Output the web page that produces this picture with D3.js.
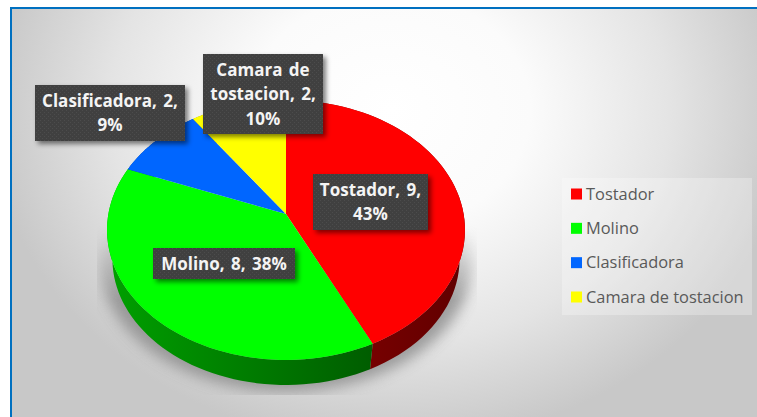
<!DOCTYPE html>
<html><head><meta charset="utf-8">
<script src="https://cdn.jsdelivr.net/npm/d3@7"></script>
<style>html,body{margin:0;padding:0;background:#fff}svg{display:block}</style>
</head><body><div id="c"></div>
<script>
const categories = ["Tostador","Molino","Clasificadora","Camara de tostacion"];
const values = [9,8,1.95,2.05];
const colors = ["#ff0000","#00ff00","#0066ff","#ffff00"];
const sideColors = [["#8a0000","#600000"],["#00a000","#005c00"],["#0040a0","#0040a0"],["#a0a000","#a0a000"]];
const labelLines = [["Tostador, 9,","43%"],["Molino, 8, 38%"],["Clasificadora, 2,","9%"],["Camara de","tostacion, 2,","10%"]];
const labelBoxes = [[313,174,115,56],[153,248,142,31],[35,85,150,56],[203,54,120,80]];

const W=757,H=417;
const svg=d3.select("#c").append("svg").attr("width",W).attr("height",H);
const defs=svg.append("defs");

const bg=defs.append("radialGradient").attr("id","bg").attr("gradientUnits","userSpaceOnUse")
  .attr("cx",0).attr("cy",0).attr("r",1)
  .attr("gradientTransform","translate(390 110) scale(400 335)");
[[0,"#ffffff"],[0.35,"#fbfbfb"],[0.7,"#e4e4e4"],[1,"#c8c8c8"]].forEach(s=>bg.append("stop").attr("offset",s[0]).attr("stop-color",s[1]));

const blur=(id,d)=>defs.append("filter").attr("id",id).attr("x","-20%").attr("y","-20%").attr("width","140%").attr("height","140%")
  .append("feGaussianBlur").attr("stdDeviation",d);
blur("sh",7); blur("bs",2.5);
defs.append("clipPath").attr("id","shClip").append("rect").attr("x",97).attr("y",225).attr("width",380).attr("height",170);
const fade=defs.append("linearGradient").attr("id","fade").attr("gradientUnits","userSpaceOnUse").attr("x1",0).attr("x2",0).attr("y1",225).attr("y2",300);
fade.append("stop").attr("offset",0).attr("stop-color","#000");
fade.append("stop").attr("offset",1).attr("stop-color","#fff");
defs.append("mask").attr("id","shMask").attr("maskUnits","userSpaceOnUse").attr("x",0).attr("y",0).attr("width",W).attr("height",H)
  .append("rect").attr("width",W).attr("height",H).attr("fill","url(#fade)");
const pat=defs.append("pattern").attr("id","dots").attr("width",4).attr("height",4).attr("patternUnits","userSpaceOnUse");
pat.append("rect").attr("width",4).attr("height",4).attr("fill","#404040");
pat.append("rect").attr("width",1).attr("height",1).attr("fill","#4c4c4c");
pat.append("rect").attr("x",2).attr("y",2).attr("width",1).attr("height",1).attr("fill","#4c4c4c");

// frame
svg.append("rect").attr("x",11).attr("y",8).attr("width",W-11).attr("height",H-8).attr("fill","url(#bg)");
svg.append("path").attr("d",`M11 ${H}V8H${W}`).attr("fill","none").attr("stroke","#0070c0").attr("stroke-width",2);

// perspective projection of the pie disc
const cx=286, apexY=214, k=0.123, a=177.6, b=128;
const proj=(t,s=1,ay=apexY)=>{const w=1+k*Math.cos(t);return [cx+s*a*Math.sin(t)/w, ay-s*b*Math.cos(t)/w];};
const bottom=t=>proj(t,0.97,243.4);
const arcs=d3.pie().sort(null).value(d=>d)(values);
const line=d3.line();
const samples=d=>d3.range(0,61).map(i=>d.startAngle+(d.endAngle-d.startAngle)*i/60);

// shadow
svg.append("g").attr("mask","url(#shMask)").append("g").attr("clip-path","url(#shClip)").append("ellipse")
  .attr("cx",cx).attr("cy",262).attr("rx",186).attr("ry",130).attr("fill","#8a8a8a").attr("opacity",.8).attr("filter","url(#sh)");

// side wall
arcs.forEach((d,i)=>{
  const g=defs.append("linearGradient").attr("id","side"+i).attr("gradientUnits","userSpaceOnUse")
    .attr("x1",107).attr("x2",465).attr("y1",0).attr("y2",0);
  const gs = i===0 ? [[0.5,sideColors[i][0]],[1,sideColors[i][1]]] : [[0,sideColors[i][0]],[0.75,sideColors[i][1]]];
  gs.forEach(s=>g.append("stop").attr("offset",s[0]).attr("stop-color",s[1]));
  const ts=samples(d);
  const pts=ts.map(t=>proj(t)).concat(ts.slice().reverse().map(bottom));
  svg.append("path").attr("d",line(pts)+"Z").attr("fill",`url(#side${i})`);
});
// top faces
arcs.forEach((d,i)=>{
  const pts=[[cx,apexY]].concat(samples(d).map(t=>proj(t)));
  svg.append("path").attr("d",line(pts)+"Z").attr("fill",colors[i]);
});

// data labels
const font='"Open Sans",sans-serif';
labelBoxes.forEach((bx,i)=>{
  const g=svg.append("g");
  g.append("rect").attr("x",bx[0]+3).attr("y",bx[1]+3).attr("width",bx[2]).attr("height",bx[3]).attr("fill","#000").attr("opacity",.5).attr("filter","url(#bs)");
  g.append("rect").attr("x",bx[0]).attr("y",bx[1]).attr("width",bx[2]).attr("height",bx[3]).attr("fill","url(#dots)");
  const ls=labelLines[i], lh=24.5, mid=bx[1]+bx[3]/2;
  ls.forEach((t,j)=>g.append("text").text(t).attr("x",bx[0]+bx[2]/2).attr("y",mid+(j-(ls.length-1)/2)*lh+6)
    .attr("text-anchor","middle").attr("font-family",font).attr("font-weight",700).attr("font-size",17)
    .attr("word-spacing",2).attr("fill","#f4f4f4"));
});

// legend
svg.append("rect").attr("x",562).attr("y",178).attr("width",190).attr("height",137).attr("fill","#fff").attr("opacity",.28);
const ly=d3.scalePoint().domain(categories).range([194,297]);
categories.forEach((c,i)=>{
  svg.append("rect").attr("x",571).attr("y",ly(c)-5.5).attr("width",11).attr("height",11).attr("fill",colors[i]);
  svg.append("text").text(c).attr("x",586).attr("y",ly(c)+5.5).attr("font-family",font).attr("font-size",16.4).attr("fill","#595959");
});
</script></body></html>
